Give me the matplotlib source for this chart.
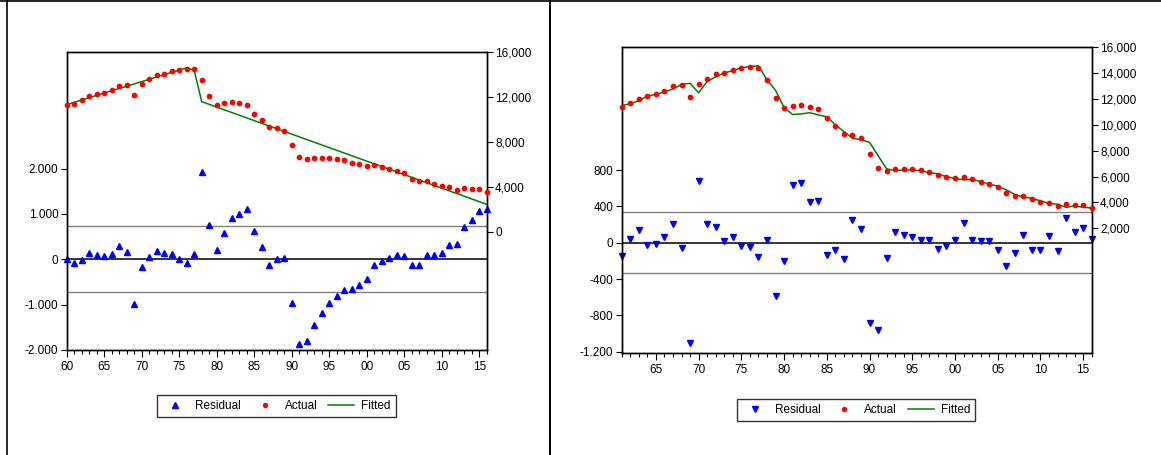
import matplotlib
matplotlib.use("Agg")
import matplotlib.pyplot as plt
from matplotlib.lines import Line2D
from matplotlib.ticker import FixedLocator, MultipleLocator

plt.rcParams['font.family'] = ['Liberation Sans', 'DejaVu Sans']
plt.rcParams['font.size'] = 8.5

# ---- data ----
years = list(range(1960, 2017))

actual = [11300, 11380, 11670, 12040, 12200, 12360, 12600, 12980, 13070, 12130,
          13160, 13570, 13910, 14050, 14260, 14380, 14490, 14430, 13500, 12100,
          11300, 11440, 11520, 11400, 11250, 10500, 9920, 9300, 9200, 8980,
          7750, 6630, 6440, 6560, 6590, 6560, 6480, 6360, 6150, 5980,
          5880, 5950, 5800, 5620, 5430, 5180, 4710, 4480, 4500, 4240,
          4050, 3980, 3750, 3870, 3820, 3770, 3570]

# left model (1960-2016): broken trend
fitted_1 = [11300, 11500, 11710, 11910, 12120, 12320, 12530, 12730, 12930, 13140,
            13340, 13550, 13750, 13960, 14160, 14370, 14570, 14340, 11560, 11320,
            11080, 10840, 10600, 10360, 10120, 9880, 9640, 9400, 9160, 8920,
            8680, 8440, 8200, 7960, 7720, 7480, 7240, 7000, 6760, 6520,
            6280, 6040, 5800, 5560, 5320, 5080, 4840, 4600, 4360, 4120,
            3880, 3640, 3400, 3160, 2920, 2680, 2440]
resid_1 = [0, -90, -20, 150, 95, 65, 125, 290, 160, -985,
           -160, 45, 175, 140, 125, 15, -80, 120, 1925, 765,
           200, 575, 905, 1005, 1110, 615, 265, -120, 5, 30,
           -965, -1870, -1800, -1455, -1185, -970, -815, -675, -645, -575,
           -425, -125, -30, 30, 95, 65, -120, -125, 90, 95,
           140, 325, 330, 705, 875, 1060, 1110]
band_1 = 725

# right model (1961-2016)
years_2 = years[1:]
actual_2 = actual[1:]
fitted_2 = [11500, 11620, 11880, 12220, 12370, 12540, 12780, 13120, 13220, 12480,
            13350, 13720, 14020, 14190, 14410, 14510, 14570, 13480, 12680, 11350,
            10800, 10850, 10940, 10770, 10630, 10000, 9490, 8960, 8850, 8650,
            7620, 6600, 6460, 6520, 6510, 6450, 6320, 6210, 6000, 5860,
            5750, 5780, 5620, 5420, 5260, 4980, 4610, 4410, 4330, 4120,
            3930, 3860, 3620, 3730, 3630, 3570]
resid_2 = [-145, 45, 145, -25, -15, 65, 205, -60, -1100, 680,
           210, 170, 20, 60, -40, -45, -155, 30, -585, -205,
           635, 655, 450, 460, -130, -80, -185, 245, 155, -885,
           -965, -170, 115, 80, 65, 30, 25, -65, -35, 35,
           215, 35, 15, 15, -75, -255, -115, 90, -85, -75,
           70, -90, 275, 115, 165, 45]
band_2 = 336

x_major_1 = [1960, 1965, 1970, 1975, 1980, 1985, 1990, 1995, 2000, 2005, 2010, 2015]
x_labels_1 = ['60', '65', '70', '75', '80', '85', '90', '95', '00', '05', '10', '15']
x_major_2 = x_major_1[1:]
x_labels_2 = x_labels_1[1:]

res_ticks_1 = [-2000, -1000, 0, 1000, 2000]
res_labels_1 = ['-2.000', '-1.000', '0', '1.000', '2.000']
act_ticks_1 = [0, 4000, 8000, 12000, 16000]
act_labels_1 = ['0', '4,000', '8,000', '12,000', '16,000']

res_ticks_2 = [-1200, -800, -400, 0, 400, 800]
res_labels_2 = ['-1.200', '-800', '-400', '0', '400', '800']
act_ticks_2 = [2000, 4000, 6000, 8000, 10000, 12000, 14000, 16000]
act_labels_2 = ['2,000', '4,000', '6,000', '8,000', '10,000', '12,000', '14,000', '16,000']

BLUE = '#0000ff'
RED = '#ff0000'
GREEN = '#008000'

W, H = 1161, 455
fig = plt.figure(figsize=(W / 100, H / 100), dpi=100)


def px_rect(x0, y0, x1, y1):
    return [x0 / W, 1 - y1 / H, (x1 - x0) / W, (y1 - y0) / H]


def draw_panel(rect, xs, act, fit, res, band, xlim, ylim_res, ylim_act,
               res_ticks, res_labels, act_ticks, act_labels, x_major, x_labels,
               res_marker, legend_center):
    ax = fig.add_axes(rect)
    ax2 = ax.twinx()

    # residual side
    ax.axhline(0, color='black', lw=1.1, zorder=1)
    ax.axhline(band, color='#808080', lw=1.0, zorder=1)
    ax.axhline(-band, color='#808080', lw=1.0, zorder=1)
    ax.plot(xs, res, linestyle='none', marker=res_marker, ms=3.7,
            color=BLUE, clip_on=False, zorder=3)
    ax.set_xlim(*xlim)
    ax.set_ylim(*ylim_res)
    ax.yaxis.set_major_locator(FixedLocator(res_ticks))
    ax.set_yticklabels(res_labels)

    # actual / fitted side
    ax2.plot(xs, fit, color=GREEN, lw=1.1, zorder=2)
    ax2.plot(xs, act, linestyle='none', marker='o', ms=3.1,
             color=RED, clip_on=False, zorder=3)
    ax2.set_ylim(*ylim_act)
    ax2.yaxis.set_major_locator(FixedLocator(act_ticks))
    ax2.set_yticklabels(act_labels)

    ax.xaxis.set_major_locator(FixedLocator(x_major))
    ax.set_xticklabels(x_labels)
    ax.xaxis.set_minor_locator(MultipleLocator(1))
    ax.tick_params(axis='x', which='major', length=5, width=0.8, pad=3)
    ax.tick_params(axis='x', which='minor', length=3, width=0.8)
    ax.tick_params(axis='y', length=4, width=0.8, pad=2)
    ax2.tick_params(axis='y', length=4, width=0.8, pad=2)
    for a in (ax, ax2):
        for s in a.spines.values():
            s.set_linewidth(1.0)

    handles = [
        Line2D([], [], linestyle='none', marker=res_marker, ms=3.7, color=BLUE),
        Line2D([], [], linestyle='none', marker='o', ms=2.8, color=RED),
        Line2D([], [], color=GREEN, lw=1.1),
    ]
    leg = fig.legend(handles, ['Residual', 'Actual', 'Fitted'], ncol=3,
                     loc='center', bbox_to_anchor=legend_center,
                     frameon=True, fancybox=False, shadow=False,
                     handlelength=2.2, handletextpad=0.6, columnspacing=0.9,
                     borderpad=0.45, fontsize=8.5)
    leg.get_frame().set_edgecolor('black')
    leg.get_frame().set_linewidth(1.0)
    return ax, ax2


draw_panel(px_rect(66.7, 51.7, 486.7, 350), years, actual, fitted_1, resid_1,
           band_1, (1960, 2016), (-2000, 4580), (-10500, 16000),
           res_ticks_1, res_labels_1, act_ticks_1, act_labels_1,
           x_major_1, x_labels_1, '^', (276.5 / W, 1 - 406 / H))

draw_panel(px_rect(621.7, 47.3, 1091.7, 352.7), years_2, actual_2, fitted_2,
           resid_2, band_2, (1961, 2016), (-1211, 2151), (-7620, 16000),
           res_ticks_2, res_labels_2, act_ticks_2, act_labels_2,
           x_major_2, x_labels_2, 'v', (856 / W, 1 - 410 / H))

# frame lines around the two panels
fig.add_artist(Line2D([0, 1], [1 - 1 / H, 1 - 1 / H], transform=fig.transFigure,
                      color='black', lw=1.2))
fig.add_artist(Line2D([6.5 / W, 6.5 / W], [0, 1], transform=fig.transFigure,
                      color='black', lw=1.2))
fig.add_artist(Line2D([550 / W, 550 / W], [0, 1], transform=fig.transFigure,
                      color='black', lw=1.4))

fig.savefig("out.png", dpi=100)
